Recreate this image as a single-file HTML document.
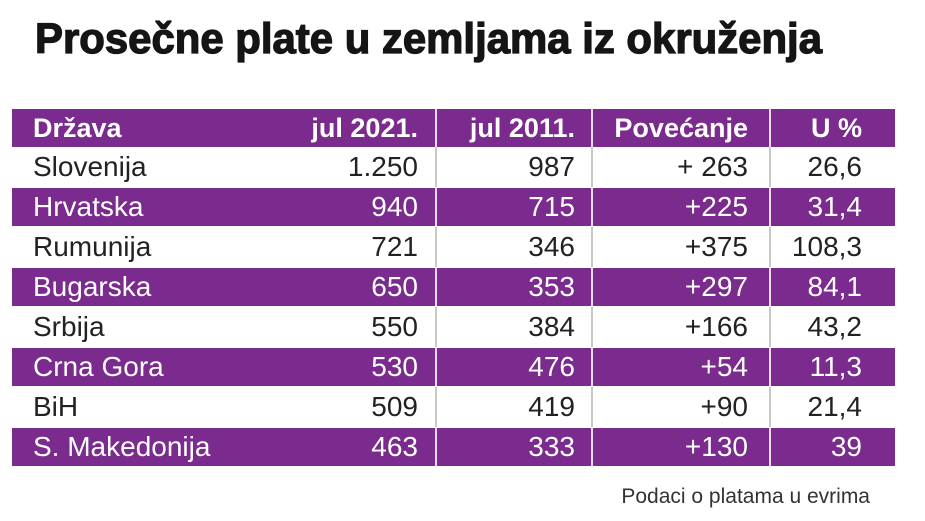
<!DOCTYPE html>
<html><head><meta charset="utf-8"><style>
body{margin:0;width:925px;height:521px;background:#fff;overflow:hidden;position:relative;font-family:"Liberation Sans",Arial,sans-serif}
.row{position:absolute;left:12px;width:883px;height:40px}
.p{background:#7b2a8e;color:#fff}
.w{color:#222}
.c{position:absolute;top:0;height:40px;line-height:40px;font-size:28px;white-space:nowrap}
.sep{position:absolute;top:0;width:2px;height:100%}
.w .sep{background:#c8c8c8}
.p .sep{background:#e9dcec}
.hd .c{font-weight:bold;font-size:27px}
</style></head><body>
<svg style="position:absolute;left:0;top:0" width="925" height="80"><text x="35" y="53" font-family="Liberation Sans,Arial,sans-serif" font-weight="bold" font-size="43" textLength="787" lengthAdjust="spacingAndGlyphs" fill="#151515" stroke="#151515" stroke-width="1.3">Prosečne plate u zemljama iz okruženja</text></svg>
<div id="t"></div>
<script>
const rows=[["Država","jul 2021.","jul 2011.","Povećanje","U %"],
["Slovenija","1.250","987","+ 263","26,6"],["Hrvatska","940","715","+225","31,4"],
["Rumunija","721","346","+375","108,3"],["Bugarska","650","353","+297","84,1"],
["Srbija","550","384","+166","43,2"],["Crna Gora","530","476","+54","11,3"],
["BiH","509","419","+90","21,4"],["S. Makedonija","463","333","+130","39"]];
let h="";
rows.forEach((r,i)=>{
 const top=i==0?109:147+40*(i-1);
 const hgt=i==0?38:40;
 const purple=(i%2==0);
 const ins=purple&&i>0?1:0;
 h+=`<div class="row ${purple?'p':'w'} ${i==0?'hd':''}" style="top:${top+ins}px;height:${hgt-2*ins}px">`;
 h+=`<div class="sep" style="left:423px"></div><div class="sep" style="left:579px"></div><div class="sep" style="left:757px"></div>`;
 const ly=`height:${hgt-2*ins}px;line-height:${hgt-2*ins}px`;
 h+=`<div class="c" style="left:21px;${ly}">${r[0]}</div>`;
 h+=`<div class="c" style="right:${883-406}px;${ly}">${r[1]}</div>`;
 h+=`<div class="c" style="right:${883-563}px;${ly}">${r[2]}</div>`;
 h+=`<div class="c" style="right:${883-736}px;${ly}">${r[3]}</div>`;
 h+=`<div class="c" style="right:${883-850}px;${ly}">${r[4]}</div>`;
 h+=`</div>`;
});
document.getElementById("t").innerHTML=h;
</script>
<div style="position:absolute;right:55px;top:485px;font-size:21px;color:#333">Podaci o platama u evrima</div>
</body></html>
